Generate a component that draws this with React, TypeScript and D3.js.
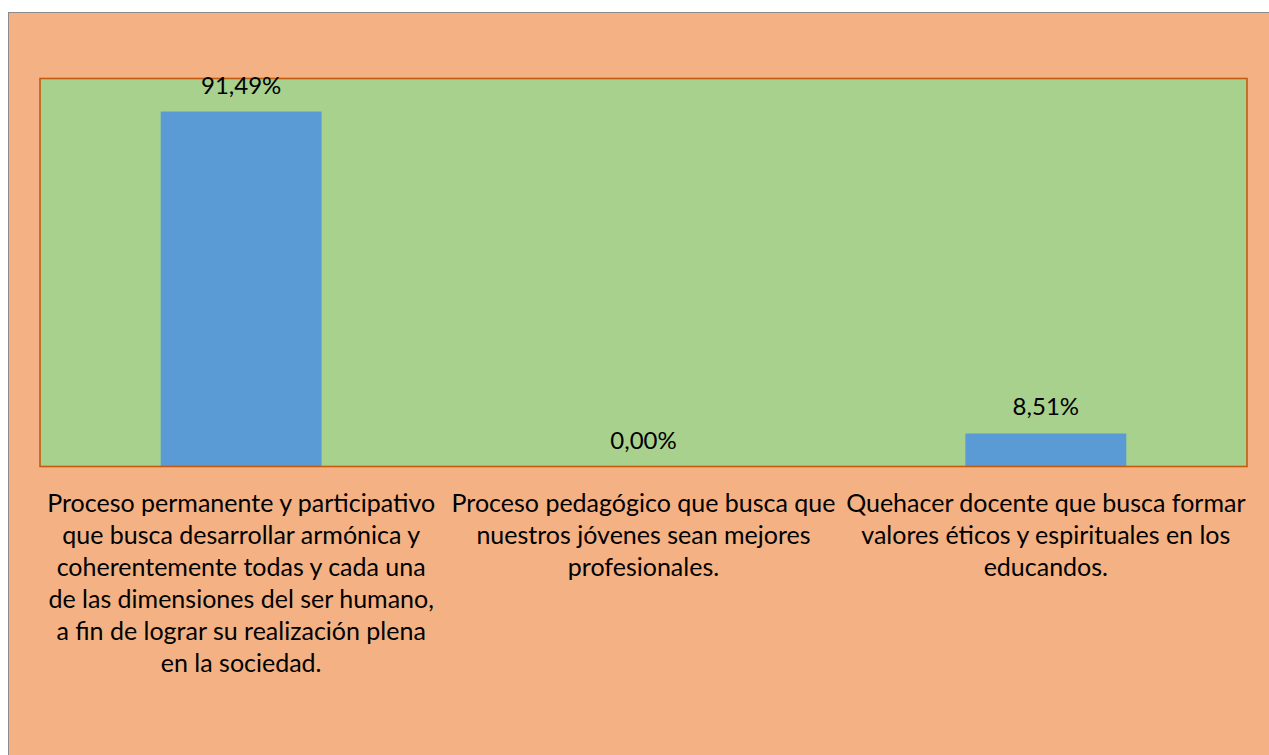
import React from "react";
import * as d3 from "d3";

const categories: string[][] = [
  [
    "Proceso permanente y participativo",
    "que busca desarrollar armónica y",
    "coherentemente todas y cada una",
    "de las dimensiones del ser humano,",
    "a fin de lograr su realización plena",
    "en la sociedad.",
  ],
  [
    "Proceso pedagógico que busca que",
    "nuestros jóvenes sean mejores",
    "profesionales.",
  ],
  [
    "Quehacer docente que busca formar",
    "valores éticos y espirituales en los",
    "educandos.",
  ],
];
const values: number[] = [91.49, 0.0, 8.51];
const valueLabels: string[] = ["91,49%", "0,00%", "8,51%"];

const W = 1269;
const H = 755;
const plot = { left: 40, right: 1247, top: 78.5, bottom: 466.5 };
const FONT = "Lato, 'Open Sans', sans-serif";

export default function App() {
  const keys = categories.map((_, i) => String(i));
  const x = d3
    .scaleBand<string>()
    .domain(keys)
    .range([plot.left, plot.right])
    .paddingInner(0.6)
    .paddingOuter(0.3);
  const y = d3.scaleLinear().domain([0, 100]).range([plot.bottom, plot.top]);

  return (
    <svg
      width={W}
      height={H}
      style={{ position: "absolute", left: 0, top: 0, display: "block" }}
      fontFamily={FONT}
    >
      <rect x={0} y={0} width={W} height={H} fill="#ffffff" />
      <rect x={8.5} y={12.5} width={W + 10} height={H + 10} fill="#F4B183" stroke="#8c8c8c" strokeWidth={1} />
      <rect
        x={plot.left}
        y={plot.top}
        width={plot.right - plot.left}
        height={plot.bottom - plot.top}
        fill="#A9D18E"
      />
      {values.map((v, i) => (
        <rect
          key={"b" + i}
          x={x(String(i))}
          y={y(v)}
          width={x.bandwidth()}
          height={plot.bottom - y(v)}
          fill="#5B9BD5"
        />
      ))}
      <rect
        x={plot.left}
        y={plot.top}
        width={plot.right - plot.left}
        height={plot.bottom - plot.top}
        fill="none"
        stroke="#C55A11"
        strokeWidth={1.6}
      />
      {values.map((v, i) => (
        <text
          key={"v" + i}
          x={(x(String(i)) as number) + x.bandwidth() / 2}
          y={y(v) - 18}
          textAnchor="middle"
          fontSize={24}
          fill="#000000"
        >
          {valueLabels[i]}
        </text>
      ))}
      {categories.map((lines, i) => {
        const cx = (x(String(i)) as number) + x.bandwidth() / 2;
        return (
          <text key={"c" + i} textAnchor="middle" fontSize={25} fill="#000000">
            {lines.map((ln, j) => (
              <tspan key={j} x={cx} y={512 + j * 32}>
                {ln}
              </tspan>
            ))}
          </text>
        );
      })}
    </svg>
  );
}
